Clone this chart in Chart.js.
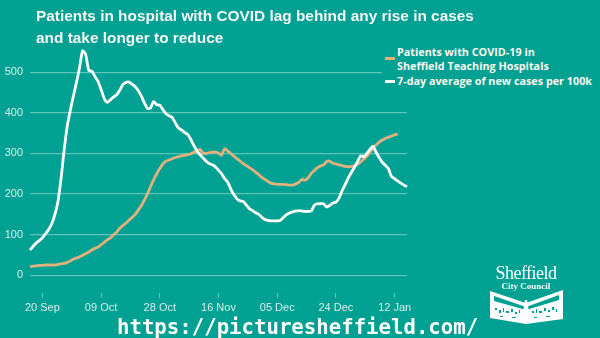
<!DOCTYPE html>
<html>
<head>
<meta charset="utf-8">
<script src="https://cdn.jsdelivr.net/npm/chart.js@4"></script>
<style>
  body { margin: 0; background: #00a092; }
  #wrap { position: relative; width: 600px; height: 338px; background: #00a092; overflow: hidden; }
  #chart { position: absolute; left: 0; top: 0; }
  .title { position: absolute; left: 36px; top: 5px; color: #f6f6f6; font: bold 15.4px "Liberation Sans", Arial, sans-serif; line-height: 22px; }
  .legend { position: absolute; left: 382px; top: 44px; width: 218px; height: 46px; background: #00a092; }
  .legend .row { position: absolute; left: 15px; color: #fbf7ee; font: bold 10.8px "Open Sans", sans-serif; line-height: 14px; white-space: nowrap; }
  .legend .swatch { position: absolute; left: 3px; width: 10px; height: 3px; }
  .url { position: absolute; left: 117px; top: 314px; color: #ffffff; font: bold 20.7px "DejaVu Sans Mono", monospace; line-height: 26px; }
  .logo { position: absolute; left: 486px; top: 262px; }
</style>
</head>
<body>
<div id="wrap">
  <canvas id="chart" width="600" height="338"></canvas>
  <div class="title">Patients in hospital with COVID lag behind any rise in cases<br>and take longer to reduce</div>
  <div class="legend">
    <div class="swatch" style="top:13px;background:#e2b17c"></div>
    <div class="row" style="top:1px">Patients with COVID-19 in</div>
    <div class="row" style="top:15px">Sheffield Teaching Hospitals</div>
    <div class="swatch" style="top:36px;background:#ffffff"></div>
    <div class="row" style="top:30px">7-day average of new cases per 100k</div>
  </div>
  <svg class="logo" width="80" height="64" viewBox="0 0 80 64">
    <text x="40" y="17" text-anchor="middle" fill="#fff" font-family="Liberation Serif, serif" font-size="18" letter-spacing="-0.5">Sheffield</text>
    <text x="40" y="27" text-anchor="middle" fill="#fff" font-family="Liberation Serif, serif" font-weight="bold" font-size="9">City Council</text>
    <!-- banner with hills -->
    <polygon points="4,29 40,41 77,28 77,57 40,62 4,56" fill="#fff"/>
    <polygon points="8,34 40,45 73,33 73,38 40,48 8,39" fill="#00a092"/>
    <!-- skyline -->
    <g fill="#00a092">
      <rect x="9" y="46" width="2" height="2"/><rect x="13" y="48" width="2" height="3"/>
      <rect x="17" y="46" width="1" height="4"/><rect x="20" y="49" width="3" height="2"/>
      <rect x="25" y="47" width="2" height="3"/><rect x="29" y="50" width="2" height="2"/>
      <rect x="33" y="48" width="1" height="3"/><rect x="46" y="49" width="2" height="2"/>
      <rect x="50" y="47" width="1" height="4"/><rect x="53" y="49" width="3" height="2"/>
      <rect x="58" y="46" width="2" height="3"/><rect x="62" y="48" width="2" height="2"/>
      <rect x="66" y="45" width="2" height="3"/><rect x="70" y="47" width="1" height="3"/>
      <rect x="14" y="54" width="3" height="1"/><rect x="26" y="55" width="4" height="1"/>
      <rect x="48" y="55" width="3" height="1"/><rect x="60" y="54" width="4" height="1"/>
    </g>
    <polygon points="37,50 39,38 41,38 43,50" fill="#fff"/>
  </svg>
  <div class="url">https://picturesheffield.com/</div>
</div>
<script>
// ===== DATA =====
const startDate = Date.UTC(2020, 8, 16);
const monthNames = ["Jan", "Feb", "Mar", "Apr", "May", "Jun", "Jul", "Aug", "Sep", "Oct", "Nov", "Dec"];
const tickLabels = ["20 Sep", "09 Oct", "28 Oct", "16 Nov", "05 Dec", "24 Dec", "12 Jan"];
const yTicks = [0, 100, 200, 300, 400, 500];

// 7-day average of new cases per 100k, 16 Sep - 16 Jan
const cases = [
  62, 71, 79, 85, 92, 102, 112, 126, 148, 180,
  235, 305, 365, 405, 440, 474, 510, 553, 545, 505,
  503, 490, 478, 458, 436, 426, 432, 439, 444, 455,
  469, 475, 476, 471, 465, 455, 442, 425, 411, 412,
  428, 420, 419, 408, 398, 393, 389, 376, 363, 358,
  352, 347, 335, 320, 307, 297, 289, 281, 275, 272,
  267, 259, 250, 238, 229, 212, 198, 188, 183, 182,
  173, 164, 159, 154, 150, 143, 137, 135, 134, 134,
  134, 135, 142, 149, 153, 156, 158, 159, 158, 157,
  157, 158, 172, 176, 176, 176, 168, 172, 178, 180,
  190, 208, 223, 240, 253, 266, 280, 294, 292, 300,
  310, 318, 303, 290, 278, 271, 262, 243, 238, 232,
  227, 222, 218
];

// Patients with COVID-19 in Sheffield Teaching Hospitals, 16 Sep - 13 Jan
const patients = [
  21, 22, 23, 24, 24, 25, 25, 25, 25, 26,
  28, 29, 31, 35, 39, 42, 45, 49, 53, 57,
  62, 66, 69, 75, 81, 87, 92, 99, 106, 115,
  122, 128, 135, 142, 149, 160, 171, 185, 200, 218,
  235, 250, 263, 274, 281, 284, 287, 290, 292, 294,
  295, 297, 299, 303, 306, 310, 301, 300, 302, 303,
  304, 301, 296, 312, 306, 300, 293, 287, 281, 275,
  270, 265, 260, 254, 248, 241, 236, 231, 227, 225,
  224, 224, 224, 223, 222, 222, 225, 229, 236, 234,
  240, 251, 258, 265, 269, 272, 280, 281, 276, 274,
  272, 270, 268, 267, 268, 270, 273, 279, 286, 293,
  303, 313, 321, 328, 333, 337, 340, 343, 346, 348
];

// one label per day, "DD Mon"
const days = cases.map((_, i) => {
  const d = new Date(startDate + i * 86400000);
  return String(d.getUTCDate()).padStart(2, "0") + " " + monthNames[d.getUTCMonth()];
});

// ===== CHART =====
const tickColor = "#d7efeb";
const gridColor = "rgba(255, 255, 255, 0.38)";

new Chart(document.getElementById("chart"), {
  type: "line",
  data: {
    labels: days,
    datasets: [
      {
        label: "7-day average of new cases per 100k",
        data: cases,
        borderColor: "#ffffff",
        borderWidth: 2.8,
        pointRadius: 0,
        tension: 0.2
      },
      {
        label: "Patients with COVID-19 in Sheffield Teaching Hospitals",
        data: patients,
        borderColor: "#e2b17c",
        borderWidth: 2.8,
        pointRadius: 0,
        tension: 0.2
      }
    ]
  },
  options: {
    responsive: false,
    animation: false,
    devicePixelRatio: 1,
    layout: { padding: { top: 48, left: 0, right: 193, bottom: 0 } },
    plugins: { legend: { display: false }, tooltip: { enabled: false } },
    scales: {
      x: {
        offset: false,
        border: { display: false },
        grid: { drawOnChartArea: false, drawTicks: true, tickLength: 5, color: gridColor, lineWidth: 1 },
        ticks: {
          autoSkip: false,
          maxRotation: 0,
          padding: 3,
          color: tickColor,
          font: { family: "Liberation Sans", size: 11 }
        },
        afterBuildTicks: (scale) => {
          scale.ticks = scale.ticks.filter(t => tickLabels.includes(days[t.value]));
        },
        afterFit: (scale) => { scale.height = 45; }
      },
      y: {
        min: -44,
        max: 560,
        border: { display: false },
        grid: { drawTicks: false, color: gridColor, lineWidth: 1.2 },
        ticks: {
          padding: 7,
          color: tickColor,
          font: { family: "Liberation Sans", size: 11 }
        },
        afterBuildTicks: (scale) => {
          scale.ticks = yTicks.map(v => ({ value: v }));
        },
        afterFit: (scale) => { scale.width = 30; }
      }
    }
  }
});
</script>
</body>
</html>
